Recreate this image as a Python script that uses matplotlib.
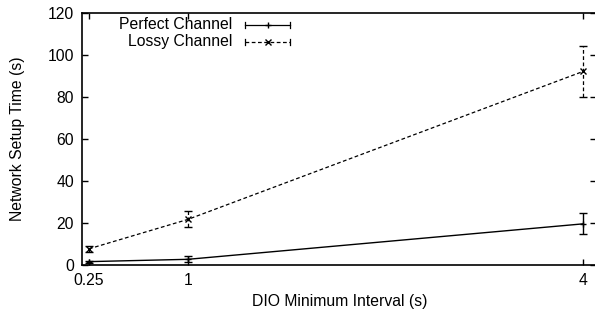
import matplotlib
matplotlib.use("Agg")
import matplotlib.pyplot as plt

plt.rcParams['font.family'] = ['Liberation Sans', 'DejaVu Sans']

intervals = [0.25, 1, 4]
perfect_mean = [1.6, 2.7, 19.6]
perfect_err = [0.5, 1.5, 5.0]
lossy_mean = [7.7, 21.7, 92.2]
lossy_err = [1.5, 3.8, 12.0]
xticks = [0.25, 1, 4]
xtick_labels = ['0.25', '1', '4']
yticks = [0, 20, 40, 60, 80, 100, 120]

FS = 11.3

fig = plt.figure(figsize=(5.95, 3.18), dpi=100)
ax = fig.add_axes([0.1385, 0.1667, 0.864, 0.7925])

ax.errorbar(intervals, perfect_mean, yerr=perfect_err, color='black', lw=1.0,
            marker='+', ms=5, mew=1.0, capsize=3, elinewidth=1.0, capthick=1.0)
eb = ax.errorbar(intervals, lossy_mean, yerr=lossy_err, color='black', lw=0.9,
                 ls=(0, (3, 2)), marker='x', ms=4, mew=1.0, capsize=3,
                 elinewidth=0.9, capthick=0.9)
eb[2][0].set_linestyle((0, (3, 2)))

ax.set_xlim(0.2, 4.1)
ax.set_ylim(0, 120)
ax.set_xticks(xticks)
ax.set_xticklabels(xtick_labels)
ax.set_yticks(yticks)
ax.tick_params(direction='in', top=True, right=True, length=4, width=1.0,
               labelsize=FS, pad=6)
for s in ax.spines.values():
    s.set_linewidth(1.2)

ax.set_xlabel('DIO Minimum Interval (s)', fontsize=FS, labelpad=4)
ax.set_ylabel('Network Setup Time (s)', fontsize=FS, labelpad=16)

# gnuplot style legend: text right aligned, sample to the right
tr = ax.transAxes
def px2ax(x, y):
    return (x - 82.4) / 514.1, (265 - y) / 252.0

for label, ls, mk, py in [('Perfect Channel', '-', '+', 25), ('Lossy Channel', (0, (3, 2)), 'x', 42)]:
    tx, ty = px2ax(232, py)
    ax.text(tx, ty, label, transform=tr, ha='right', va='center', fontsize=FS)
    x0, _ = px2ax(245, py)
    x1, _ = px2ax(290, py)
    xm, _ = px2ax(267.5, py)
    ax.plot([x0, x1], [ty, ty], transform=tr, color='black', lw=0.9, ls=ls)
    for xx in (x0, x1):
        ax.plot([xx, xx], [ty - 0.012, ty + 0.012], transform=tr, color='black', lw=0.9)
    ax.plot([xm], [ty], transform=tr, color='black', marker=mk, ms=4, mew=1.0)

fig.savefig('out.png', dpi=100)
